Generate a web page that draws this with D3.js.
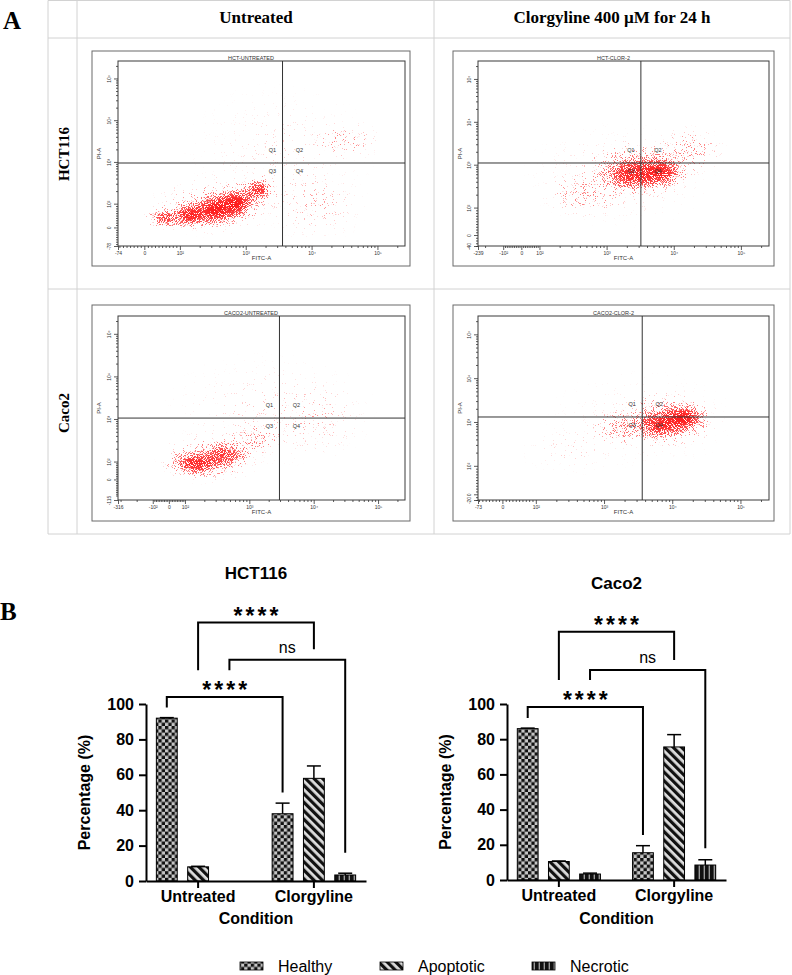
<!DOCTYPE html>
<html>
<head>
<meta charset="utf-8">
<title>Clorgyline apoptosis assay</title>
<script src="https://cdn.jsdelivr.net/npm/d3@7"></script>
<style>
  body { margin: 0; background: #fff; }
  svg { display: block; }
</style>
</head>
<body>
<svg id="fig" width="792" height="975"></svg>
<script>
// ---------- A: flow cytometry (FITC-A vs PI-A) ----------
const facsTitles = ['HCT-UNTREATED', 'HCT-CLOR-2', 'CACO2-UNTREATED', 'CACO2-CLOR-2'];
const fcsMax = 262144;
const xMins = [-74, -239, -316, -73];
const yMins = [-78, -40, -115, -20];
// slope of the linear part of the biexponential axis below 10^2 (decades per unit)
const xLinear = [0.0054, 0.0027, 0.0025, 0.0049];
const yLinear = [0.0057, 0.0064, 0.0042, 0.0065];
const gateX = [3620, 3240, 2940, 3630];
const gateY = [942, 1096, 1050, 1300];
const xTickVals = [
  [-74, 0, 1e2, 1e3, 1e4, 1e5],
  [-239, -100, 0, 1e2, 1e3, 1e4, 1e5],
  [-316, -100, 0, 1e2, 1e3, 1e4, 1e5],
  [-73, 0, 1e2, 1e3, 1e4, 1e5]
];
const xTickLabels = [
  ['-74', '0', '10²', '10³', '10⁴', '10⁵'],
  ['-239', '-10²', '0', '10²', '10³', '10⁴', '10⁵'],
  ['-316', '-10²', '0', '10²', '10³', '10⁴', '10⁵'],
  ['-73', '0', '10²', '10³', '10⁴', '10⁵']
];
const yTickVals = [
  [-78, 0, 1e2, 1e3, 1e4, 1e5],
  [-40, 0, 1e2, 1e3, 1e4, 1e5],
  [-115, 0, 1e2, 1e3, 1e4, 1e5],
  [-20, 0, 1e2, 1e3, 1e4, 1e5]
];
const yTickLabels = [
  ['-78', '0', '10²', '10³', '10⁴', '10⁵'],
  ['-40', '0', '10²', '10³', '10⁴', '10⁵'],
  ['-115', '0', '10²', '10³', '10⁴', '10⁵'],
  ['-20', '0', '10²', '10³', '10⁴', '10⁵']
];
const quadrantNames = ['Q1', 'Q2', 'Q3', 'Q4'];

// event populations: [FITC-A, PI-A, spread FITC (decades), spread PI (decades), density]
const hctUntreatedEvents = [
  [58, 40, 0.34, 0.34, 0.7],
  [143, 52, 0.38, 0.42, 0.85],
  [345, 73, 0.42, 0.5, 0.9],
  [721, 104, 0.4, 0.5, 0.9],
  [1560, 212, 0.32, 0.4, 0.75],
  [345, 94, 1.05, 0.8, 0.27],
  [11500, 94, 0.85, 0.95, 0.14],
  [33000, 3350, 0.6, 0.55, 0.2],
  [3370, 1930, 1.52, 1.68, 0.07]
];
const hctClorEvents = [
  [6210, 676, 0.45, 0.45, 0.8],
  [2220, 575, 0.5, 0.45, 0.65],
  [3130, 753, 0.88, 0.72, 0.52],
  [474, 197, 0.68, 0.58, 0.24],
  [1570, 575, 1.49, 1.28, 0.1],
  [17400, 2200, 0.58, 0.62, 0.28]
];
const cacoUntreatedEvents = [
  [143, 86, 0.52, 0.38, 0.8],
  [418, 143, 0.5, 0.45, 0.6],
  [1220, 321, 0.52, 0.48, 0.3],
  [245, 121, 0.88, 0.65, 0.32],
  [2090, 1630, 1.71, 1.41, 0.09],
  [12500, 946, 0.8, 1.06, 0.09]
];
const cacoClorEvents = [
  [14500, 1230, 0.42, 0.42, 0.85],
  [6670, 853, 0.47, 0.42, 0.7],
  [7890, 1110, 0.88, 0.72, 0.42],
  [1730, 730, 0.5, 0.46, 0.33],
  [321, 230, 0.78, 0.62, 0.08],
  [3400, 1110, 1.46, 1.25, 0.06]
];

// ---------- B: percentage bar charts ----------
const conditions = ['Untreated', 'Clorgyline'];
const states = ['Healthy', 'Apoptotic', 'Necrotic'];
const percentTicks = [0, 20, 40, 60, 80, 100];
// rows = condition, columns = state
const hctMean = [[92, 8, 0], [38, 58, 3.4]];
const hctErr = [[0.3, 0.3, 0], [6, 7, 1]];
const cacoMean = [[86, 10.5, 3.4], [15.5, 75.6, 8.5]];
const cacoErr = [[0.3, 0.3, 0.5], [4, 7, 3]];
// [state compared, bracket level, left leg end, right leg end, label] in % units
const hctSig = [
  ['Healthy', 104, 98, 50, '****'],
  ['Apoptotic', 146, 119, 131, '****'],
  ['Necrotic', 125, 119, 16, 'ns']
];
const cacoSig = [
  ['Healthy', 98.3, 92, 25.6, '****'],
  ['Apoptotic', 141, 113.6, 125, '****'],
  ['Necrotic', 119.3, 113.6, 18, 'ns']
];

const SERIF = '"Liberation Serif", "Times New Roman", serif';
const SANS = '"Liberation Sans", Arial, sans-serif';

const svg = d3.select('#fig');
const defs = svg.append('defs');

// speckle texture that turns density blobs into dotted events
const speckle = defs.append('filter').attr('id', 'speckle')
  .attr('filterUnits', 'userSpaceOnUse')
  .attr('x', 0).attr('y', 0).attr('width', 792).attr('height', 540)
  .attr('color-interpolation-filters', 'sRGB');
speckle.append('feTurbulence').attr('type', 'fractalNoise').attr('baseFrequency', 1.1)
  .attr('numOctaves', 1).attr('seed', 7).attr('result', 'noise');
speckle.append('feColorMatrix').attr('in', 'noise').attr('type', 'matrix')
  .attr('values', '0 0 0 0 0  0 0 0 0 0  0 0 0 0 0  2.4 0 0 0 -0.7').attr('result', 'grain');
speckle.append('feComposite').attr('in', 'SourceAlpha').attr('in2', 'grain').attr('operator', 'arithmetic')
  .attr('k1', 0).attr('k2', 7).attr('k3', 7).attr('k4', -7).attr('result', 'mask');
// sparse dots are paler than the packed core
speckle.append('feComposite').attr('in', 'mask').attr('in2', 'SourceAlpha').attr('operator', 'arithmetic')
  .attr('k1', 0.6).attr('k2', 0.4).attr('k3', 0).attr('k4', 0).attr('result', 'shade');
speckle.append('feColorMatrix').attr('in', 'shade').attr('type', 'matrix')
  .attr('values', '0 0 0 0 1  0 0 0 0 0.06  0 0 0 0 0.06  0 0 0 1 0');

const blob = defs.append('radialGradient').attr('id', 'blob');
[[0, 1], [0.25, 0.85], [0.5, 0.5], [0.75, 0.18], [1, 0]].forEach(([o, a]) => {
  blob.append('stop').attr('offset', o).attr('stop-color', '#000').attr('stop-opacity', a);
});

// bar fill patterns
const checker = defs.append('pattern').attr('id', 'pat-Healthy')
  .attr('patternUnits', 'userSpaceOnUse').attr('width', 6.6).attr('height', 6.6);
checker.append('rect').attr('width', 6.6).attr('height', 6.6).attr('fill', '#c6c6c6');
checker.append('rect').attr('width', 3.3).attr('height', 3.3).attr('fill', '#111');
checker.append('rect').attr('x', 3.3).attr('y', 3.3).attr('width', 3.3).attr('height', 3.3).attr('fill', '#111');

const diag = defs.append('pattern').attr('id', 'pat-Apoptotic')
  .attr('patternUnits', 'userSpaceOnUse').attr('width', 6).attr('height', 6)
  .attr('patternTransform', 'rotate(-45)');
diag.append('rect').attr('width', 6).attr('height', 6).attr('fill', '#dedede');
diag.append('rect').attr('width', 3.2).attr('height', 6).attr('fill', '#111');

const vert = defs.append('pattern').attr('id', 'pat-Necrotic')
  .attr('patternUnits', 'userSpaceOnUse').attr('width', 5).attr('height', 5);
vert.append('rect').attr('width', 5).attr('height', 5).attr('fill', '#9a9a9a');
vert.append('rect').attr('width', 3.6).attr('height', 5).attr('fill', '#111');

// ---------- table frame ----------
const grid = svg.append('g').attr('stroke', '#d2d2d2').attr('stroke-width', 1);
[0.5, 38, 289, 534].forEach(yy => grid.append('line').attr('x1', 48).attr('x2', 790).attr('y1', yy).attr('y2', yy));
[48, 77, 434, 790].forEach(xx => grid.append('line').attr('x1', xx).attr('x2', xx).attr('y1', 0.5).attr('y2', 534));

svg.append('text').attr('x', 3).attr('y', 29).attr('font-family', SERIF).attr('font-weight', 'bold')
  .attr('font-size', 25).text('A');
svg.append('text').attr('x', 0).attr('y', 620).attr('font-family', SERIF).attr('font-weight', 'bold')
  .attr('font-size', 25).text('B');

const colHeads = ['Untreated', 'Clorgyline 400 µM for 24 h'];
const colCenters = [256, 612];
colHeads.forEach((t, i) => {
  svg.append('text').attr('x', colCenters[i]).attr('y', 23).attr('text-anchor', 'middle')
    .attr('font-family', SERIF).attr('font-weight', 'bold').attr('font-size', 17).text(t);
});
const rowHeads = ['HCT116', 'Caco2'];
const rowCenters = [154, 413];
rowHeads.forEach((t, i) => {
  svg.append('text').attr('transform', `translate(69,${rowCenters[i]}) rotate(-90)`)
    .attr('text-anchor', 'middle').attr('font-family', SERIF).attr('font-weight', 'bold')
    .attr('font-size', 15).text(t);
});

// ---------- dot plots ----------
const boxes = [
  { ox: 92, oy: 51, ow: 318, oh: 215, ix: 118, iy: 61, iw: 287, ih: 185 },
  { ox: 453, oy: 51, ow: 321, oh: 215, ix: 478, iy: 61, iw: 291, ih: 185 },
  { ox: 92, oy: 305, ow: 318, oh: 216, ix: 118, iy: 316, iw: 287, ih: 184 },
  { ox: 453, oy: 305, ow: 321, oh: 216, ix: 478, iy: 316, iw: 291, ih: 184 }
];
const eventSets = [hctUntreatedEvents, hctClorEvents, cacoUntreatedEvents, cacoClorEvents];

function minorValues(min) {
  const lin = d3.range(Math.ceil(min / 10) * 10, 100, 10).filter(v => v >= -100 && v % 100 !== 0);
  const neg = d3.range(-200, min - 1, -100);
  const logs = [];
  for (let k = 2; k <= 5; k++) {
    for (let m = 2; m <= 9; m++) if (m * 10 ** k <= fcsMax) logs.push(m * 10 ** k);
  }
  return lin.concat(neg, logs);
}

function drawFacs(i) {
  const b = boxes[i];
  const tx = v => v >= 100 ? Math.log10(v) : 2 - (100 - v) * xLinear[i];
  const ty = v => v >= 100 ? Math.log10(v) : 2 - (100 - v) * yLinear[i];
  const xs = d3.scaleLinear().domain([tx(xMins[i]), tx(fcsMax)]).range([b.ix, b.ix + b.iw]);
  const ys = d3.scaleLinear().domain([ty(yMins[i]), ty(fcsMax)]).range([b.iy + b.ih, b.iy]);
  const X = v => xs(tx(v));
  const Y = v => ys(ty(v));
  const decX = xs(1) - xs(0);
  const decY = ys(0) - ys(1);

  const g = svg.append('g');
  g.append('rect').attr('x', b.ox).attr('y', b.oy).attr('width', b.ow).attr('height', b.oh)
    .attr('fill', 'none').attr('stroke', '#6a6a6a').attr('stroke-width', 1);

  defs.append('clipPath').attr('id', 'clip' + i).append('rect')
    .attr('x', b.ix).attr('y', b.iy).attr('width', b.iw).attr('height', b.ih);

  g.append('g').attr('clip-path', `url(#clip${i})`)
    .append('g').attr('filter', 'url(#speckle)')
    .selectAll('ellipse').data(eventSets[i]).join('ellipse')
    .attr('cx', d => X(d[0]))
    .attr('cy', d => Y(d[1]))
    .attr('rx', d => d[2] * decX)
    .attr('ry', d => d[3] * decY)
    .attr('fill', 'url(#blob)')
    .attr('fill-opacity', d => d[4]);

  g.append('rect').attr('x', b.ix).attr('y', b.iy).attr('width', b.iw).attr('height', b.ih)
    .attr('fill', 'none').attr('stroke', '#3a3a3a').attr('stroke-width', 1);

  // quadrant gates
  g.append('line').attr('x1', X(gateX[i])).attr('x2', X(gateX[i])).attr('y1', b.iy).attr('y2', b.iy + b.ih)
    .attr('stroke', '#333').attr('stroke-width', 1);
  g.append('line').attr('x1', b.ix).attr('x2', b.ix + b.iw).attr('y1', Y(gateY[i])).attr('y2', Y(gateY[i]))
    .attr('stroke', '#333').attr('stroke-width', 1);
  const qOff = [[-10, -11], [17, -11], [-10, 10], [17, 10]];
  quadrantNames.forEach((q, k) => {
    g.append('text').attr('x', X(gateX[i]) + qOff[k][0]).attr('y', Y(gateY[i]) + qOff[k][1])
      .attr('text-anchor', 'middle').attr('font-family', SANS).attr('font-size', 5.5)
      .attr('fill', '#333').text(q);
  });

  // axes
  g.append('g').attr('transform', `translate(0,${b.iy + b.ih})`)
    .call(d3.axisBottom(xs).tickValues(xTickVals[i].map(tx)).tickSize(4).tickPadding(1)
      .tickFormat((d, k) => xTickLabels[i][k]));
  g.append('g').attr('transform', `translate(0,${b.iy + b.ih})`)
    .call(d3.axisBottom(xs).tickValues(minorValues(xMins[i]).map(tx)).tickSize(2).tickFormat(''));
  const yAxis = g.append('g').attr('transform', `translate(${b.ix},0)`)
    .call(d3.axisLeft(ys).tickValues(yTickVals[i].map(ty)).tickSize(4)
      .tickFormat((d, k) => yTickLabels[i][k]));
  g.append('g').attr('transform', `translate(${b.ix},0)`)
    .call(d3.axisLeft(ys).tickValues(minorValues(yMins[i]).map(ty)).tickSize(2).tickFormat(''));

  g.selectAll('.domain').remove();
  g.selectAll('.tick line').attr('stroke', '#333').attr('stroke-width', 0.8);
  g.selectAll('.tick text').attr('font-family', SANS).attr('font-size', 5).attr('fill', '#333');
  yAxis.selectAll('.tick text').attr('x', 0).attr('y', -7).attr('dy', 0)
    .attr('text-anchor', 'middle').attr('transform', 'rotate(-90)');

  g.append('text').attr('x', b.ox + b.ow / 2).attr('y', b.iy - 1.5).attr('text-anchor', 'middle')
    .attr('font-family', SANS).attr('font-size', 5.5).attr('fill', '#333').text(facsTitles[i]);
  g.append('text').attr('x', b.ix + b.iw / 2).attr('y', b.iy + b.ih + 14).attr('text-anchor', 'middle')
    .attr('font-family', SANS).attr('font-size', 6).attr('fill', '#333').text('FITC-A');
  g.append('text').attr('transform', `translate(${b.ox + 9},${b.iy + b.ih / 2}) rotate(-90)`)
    .attr('text-anchor', 'middle').attr('font-family', SANS).attr('font-size', 6)
    .attr('fill', '#333').text('PI-A');
}
[0, 1, 2, 3].forEach(drawFacs);

// ---------- bar charts ----------
function drawBars(cfg) {
  const y = d3.scaleLinear().domain([0, 100]).range([cfg.base, cfg.top]);
  const x0 = d3.scaleBand().domain(conditions).range([cfg.left, cfg.right])
    .paddingInner(0.2).paddingOuter(0.05);
  const x1 = d3.scaleBand().domain(states).range([0, x0.bandwidth()])
    .paddingInner(1 / 3).paddingOuter(0.146);
  const cx = (c, s) => x0(c) + x1(s) + x1.bandwidth() / 2;

  const rows = conditions.flatMap((c, ci) => states.map((s, si) => ({
    c, s, v: cfg.mean[ci][si], e: cfg.err[ci][si]
  })));

  const g = svg.append('g');
  g.selectAll('rect.bar').data(rows).join('rect').attr('class', 'bar')
    .attr('x', d => x0(d.c) + x1(d.s))
    .attr('y', d => y(d.v))
    .attr('width', x1.bandwidth())
    .attr('height', d => y(0) - y(d.v))
    .attr('fill', d => `url(#pat-${d.s})`)
    .attr('stroke', '#000').attr('stroke-width', 1);

  const eb = g.selectAll('g.err').data(rows.filter(d => d.e > 0)).join('g').attr('class', 'err')
    .attr('stroke', '#000').attr('stroke-width', 1.5);
  eb.append('line').attr('x1', d => cx(d.c, d.s)).attr('x2', d => cx(d.c, d.s))
    .attr('y1', d => y(d.v)).attr('y2', d => y(d.v + d.e));
  eb.append('line').attr('x1', d => cx(d.c, d.s) - 7).attr('x2', d => cx(d.c, d.s) + 7)
    .attr('y1', d => y(d.v + d.e)).attr('y2', d => y(d.v + d.e));

  const ax = g.append('g').attr('transform', `translate(0,${cfg.base})`)
    .call(d3.axisBottom(x0).tickSize(7).tickSizeOuter(0).tickPadding(3));
  const ay = g.append('g').attr('transform', `translate(${cfg.left},0)`)
    .call(d3.axisLeft(y).tickValues(percentTicks).tickSize(7).tickSizeOuter(0).tickPadding(5));
  [ax, ay].forEach(a => {
    a.select('.domain').attr('stroke-width', 2);
    a.selectAll('.tick line').attr('stroke-width', 2);
    a.selectAll('.tick text').attr('font-family', SANS).attr('font-weight', 'bold')
      .attr('font-size', 16).attr('fill', '#000');
  });

  // significance brackets
  cfg.sig.forEach(([s, level, lEnd, rEnd, label]) => {
    const xl = cx('Untreated', s);
    const xr = cx('Clorgyline', s);
    g.append('path')
      .attr('d', `M${xl},${y(lEnd)}V${y(level)}H${xr}V${y(rEnd)}`)
      .attr('fill', 'none').attr('stroke', '#000').attr('stroke-width', 2);
    const star = label !== 'ns';
    g.append('text').attr('x', (xl + xr) / 2 + (star ? 1.5 : 0))
      .attr('y', y(level) + (star ? 1 : -7))
      .attr('text-anchor', 'middle').attr('font-family', SANS)
      .attr('font-weight', star ? 'bold' : 'normal')
      .attr('font-size', star ? 23 : 16)
      .attr('letter-spacing', star ? 3 : 0)
      .text(label);
  });

  g.append('text').attr('x', (cfg.left + cfg.right) / 2).attr('y', cfg.titleY).attr('text-anchor', 'middle')
    .attr('font-family', SANS).attr('font-weight', 'bold').attr('font-size', 17).text(cfg.title);
  g.append('text').attr('x', (cfg.left + cfg.right) / 2).attr('y', 924).attr('text-anchor', 'middle')
    .attr('font-family', SANS).attr('font-weight', 'bold').attr('font-size', 16).text('Condition');
  g.append('text').attr('transform', `translate(${cfg.left - 56},${(y(0) + y(100)) / 2}) rotate(-90)`)
    .attr('text-anchor', 'middle').attr('font-family', SANS).attr('font-weight', 'bold')
    .attr('font-size', 16).text('Percentage (%)');
}

drawBars({ left: 146, right: 366, base: 881, top: 704, mean: hctMean, err: hctErr,
  sig: hctSig, title: 'HCT116', titleY: 579 });
drawBars({ left: 507, right: 726, base: 880, top: 704, mean: cacoMean, err: cacoErr,
  sig: cacoSig, title: 'Caco2', titleY: 589 });

// ---------- legend ----------
const legendX = [240, 380, 532];
const legend = svg.append('g');
states.forEach((s, i) => {
  legend.append('rect').attr('x', legendX[i]).attr('y', 962).attr('width', 23).attr('height', 8)
    .attr('fill', `url(#pat-${s})`).attr('stroke', '#000').attr('stroke-width', 0.8);
  legend.append('text').attr('x', legendX[i] + 38).attr('y', 972)
    .attr('font-family', SANS).attr('font-size', 16).text(s);
});
</script>
</body>
</html>
